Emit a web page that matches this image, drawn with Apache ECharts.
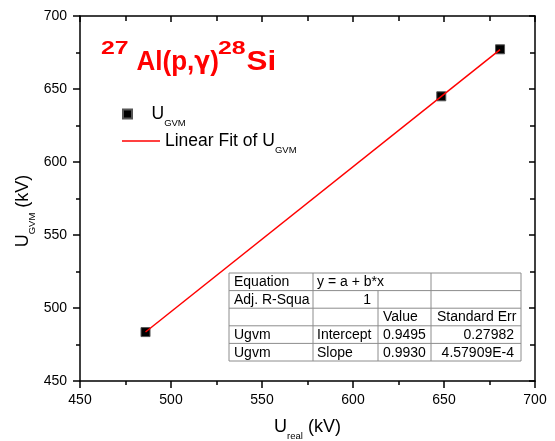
<!DOCTYPE html>
<html><head><meta charset="utf-8">
<script src="https://cdn.jsdelivr.net/npm/echarts@6/dist/echarts.min.js"></script>
<style>html,body{margin:0;padding:0;background:#fff}#c{width:555px;height:441px}</style>
</head><body><div id="c"></div>
<script>
// ---- data ----
const xRange = [450, 700];
const yRange = [450, 700];
const tickStep = 50;
const uReal = [486.0, 648.5, 680.8];
const uGvm = [483.5, 645.0, 677.2];
const fitX = [486.0, 680.8];
const fitY = [483.55, 676.98];
const tableRows = [
  ['Equation', 'y = a + b*x', '', ''],
  ['Adj. R-Squa', '1', '', ''],
  ['', '', 'Value', 'Standard Err'],
  ['Ugvm', 'Intercept', '0.9495', '0.27982'],
  ['Ugvm', 'Slope', '0.9930', '4.57909E-4']
];
const titleParts = ['27', 'Al(p,', '\u03b3', ')', '28', 'Si'];

// ---- styling / layout ----
const FF = '"Liberation Sans", Arial, sans-serif';
const chart = echarts.init(document.getElementById('c'), null, {renderer: 'canvas'});

const subRich = (size, subSize, pad) => ({
  n: {fontSize: size, fontFamily: FF, color: '#000'},
  s: {fontSize: subSize, fontFamily: FF, color: '#000', padding: [pad, 0, 0, 0]},
  e: {fontSize: size, fontFamily: FF, color: '#000', padding: [0, 25, 0, 0]}
});

function axis(kind, pos, main) {
  const range = kind === 'x' ? xRange : yRange;
  return {
    type: 'value', position: pos, min: range[0], max: range[1], interval: tickStep,
    axisLine: {show: true, onZero: false, lineStyle: {color: '#000', width: 1.5}},
    axisTick: {show: true, inside: !main, length: main ? 7 : 6, lineStyle: {color: '#000', width: 1.5}},
    minorTick: {show: true, splitNumber: 2, length: main ? 4 : 5, lineStyle: {color: '#000', width: 1.5}},
    splitLine: {show: false}, minorSplitLine: {show: false},
    axisLabel: {show: main, color: '#000', fontSize: 14, fontFamily: FF, margin: kind === 'x' ? 12 : 13},
    z: 10
  };
}

const xMain = axis('x', 'bottom', true);
xMain.name = '{n|U}{s|real}{n| (kV)}';
xMain.nameLocation = 'middle';
xMain.nameGap = 32;
xMain.nameMoveOverlap = false;
xMain.nameTextStyle = {rich: subRich(18, 9.5, 18)};
const yMain = axis('y', 'left', true);
yMain.name = '{n|U}{s|GVM}{e| (kV)}';
yMain.nameLocation = 'middle';
yMain.nameRotate = 90;
yMain.nameGap = 43;
yMain.nameMoveOverlap = false;
yMain.nameTextStyle = {rich: subRich(18, 9.5, 18)};

// table graphic
const colX = [229, 313, 378, 431, 521];
const rowY = [273, 290.6, 308.2, 325.8, 343.4, 361];
const tblColor = '#8c8c8c';
const tbl = [];
tbl.push({type: 'rect', shape: {x: colX[0], y: rowY[0], width: colX[4] - colX[0], height: rowY[5] - rowY[0]},
  style: {fill: '#fff', stroke: tblColor, lineWidth: 1}, z: 20});
for (let i = 1; i < rowY.length - 1; i++) {
  tbl.push({type: 'line', shape: {x1: colX[0], y1: rowY[i], x2: colX[4], y2: rowY[i]}, style: {stroke: tblColor, lineWidth: 1}, z: 21});
}
tbl.push({type: 'line', shape: {x1: colX[1], y1: rowY[0], x2: colX[1], y2: rowY[5]}, style: {stroke: tblColor, lineWidth: 1}, z: 21});
tbl.push({type: 'line', shape: {x1: colX[2], y1: rowY[1], x2: colX[2], y2: rowY[5]}, style: {stroke: tblColor, lineWidth: 1}, z: 21});
tbl.push({type: 'line', shape: {x1: colX[3], y1: rowY[0], x2: colX[3], y2: rowY[5]}, style: {stroke: tblColor, lineWidth: 1}, z: 21});
tableRows.forEach((row, r) => {
  row.forEach((txt, c) => {
    if (!txt) return;
    const numeric = /^[0-9]/.test(txt) && !(r === 0);
    const rightAlign = numeric && (c === 1 || c === 3);
    const x = rightAlign ? colX[c + 1] - 7 : colX[c] + (c === 1 ? 4 : (c === 3 ? 6 : 5));
    tbl.push({type: 'text', x: x, y: (rowY[r] + rowY[r + 1]) / 2 + 0.5, z: 22,
      style: {text: txt, fill: '#000', fontSize: 14, fontFamily: FF, align: rightAlign ? 'right' : 'left', verticalAlign: 'middle'}});
  });
});

// title: superscripted mass numbers, red bold
const red = '#ff0000';
const supStyle = {fontSize: 18, fontWeight: 'bold', fontFamily: FF, fill: red, align: 'left', verticalAlign: 'middle'};
const mainRich = {
  m: {fontSize: 28, fontWeight: 'bold', fontFamily: FF, color: red},
  g: {fontSize: 25, fontWeight: 'bold', fontFamily: '"DejaVu Sans", sans-serif', color: red}
};
const titleEls = [
  {type: 'text', x: 101, y: 48.8, scaleX: 1.38, z: 30, style: Object.assign({text: titleParts[0]}, supStyle)},
  {type: 'text', x: 136.5, y: 62.3, scaleX: 0.93, z: 30,
    style: {text: '{m|' + titleParts[1] + '}{g|' + titleParts[2] + '}{m|' + titleParts[3] + '}', rich: mainRich,
      fill: red, align: 'left', verticalAlign: 'middle'}},
  {type: 'text', x: 218, y: 48.8, scaleX: 1.38, z: 30, style: Object.assign({text: titleParts[4]}, supStyle)},
  {type: 'text', x: 246.5, y: 62.3, scaleX: 1.12, z: 30,
    style: {text: titleParts[5], fontSize: 28, fontWeight: 'bold', fontFamily: FF, fill: red, align: 'left', verticalAlign: 'middle'}}
];

const legendText = {UGVM: '{n|U}{s|GVM}', 'Linear Fit of UGVM': '{n|Linear Fit of U}{s|GVM}'};

chart.setOption({
  animation: false,
  backgroundColor: '#fff',
  grid: {left: 80, right: 20, top: 16, bottom: 60, containLabel: false, outerBoundsMode: 'none'},
  xAxis: [xMain, axis('x', 'top', false)],
  yAxis: [yMain, axis('y', 'right', false)],
  legend: [
    {left: 122, top: 105, padding: 0, itemWidth: 38, itemHeight: 9, selectedMode: false,
      data: [{name: 'UGVM', icon: 'path://M0,0H10V10H0Z'}], formatter: n => legendText[n],
      textStyle: {rich: subRich(17.5, 9.5, 18)}},
    {left: 122, top: 132, padding: 0, itemWidth: 38, itemHeight: 14, selectedMode: false,
      data: [{name: 'Linear Fit of UGVM', icon: 'path://M0,0H38V1.5H0Z'}], formatter: n => legendText[n],
      itemStyle: {color: '#ff0000', borderWidth: 0},
      textStyle: {rich: subRich(17.5, 9.5, 18)}}
  ],
  series: [
    {name: 'UGVM', type: 'scatter', xAxisIndex: 0, yAxisIndex: 0, symbol: 'rect', symbolSize: 9,
      itemStyle: {color: '#000', borderColor: '#555', borderWidth: 1, opacity: 1},
      data: uReal.map((x, i) => [x, uGvm[i]]), z: 3},
    {name: 'Linear Fit of UGVM', type: 'line', xAxisIndex: 0, yAxisIndex: 0, symbol: 'none',
      lineStyle: {color: '#ff0000', width: 1.5}, itemStyle: {color: '#ff0000'},
      data: fitX.map((x, i) => [x, fitY[i]]), z: 4}
  ],
  graphic: titleEls.concat(tbl)
});
</script>
</body></html>
